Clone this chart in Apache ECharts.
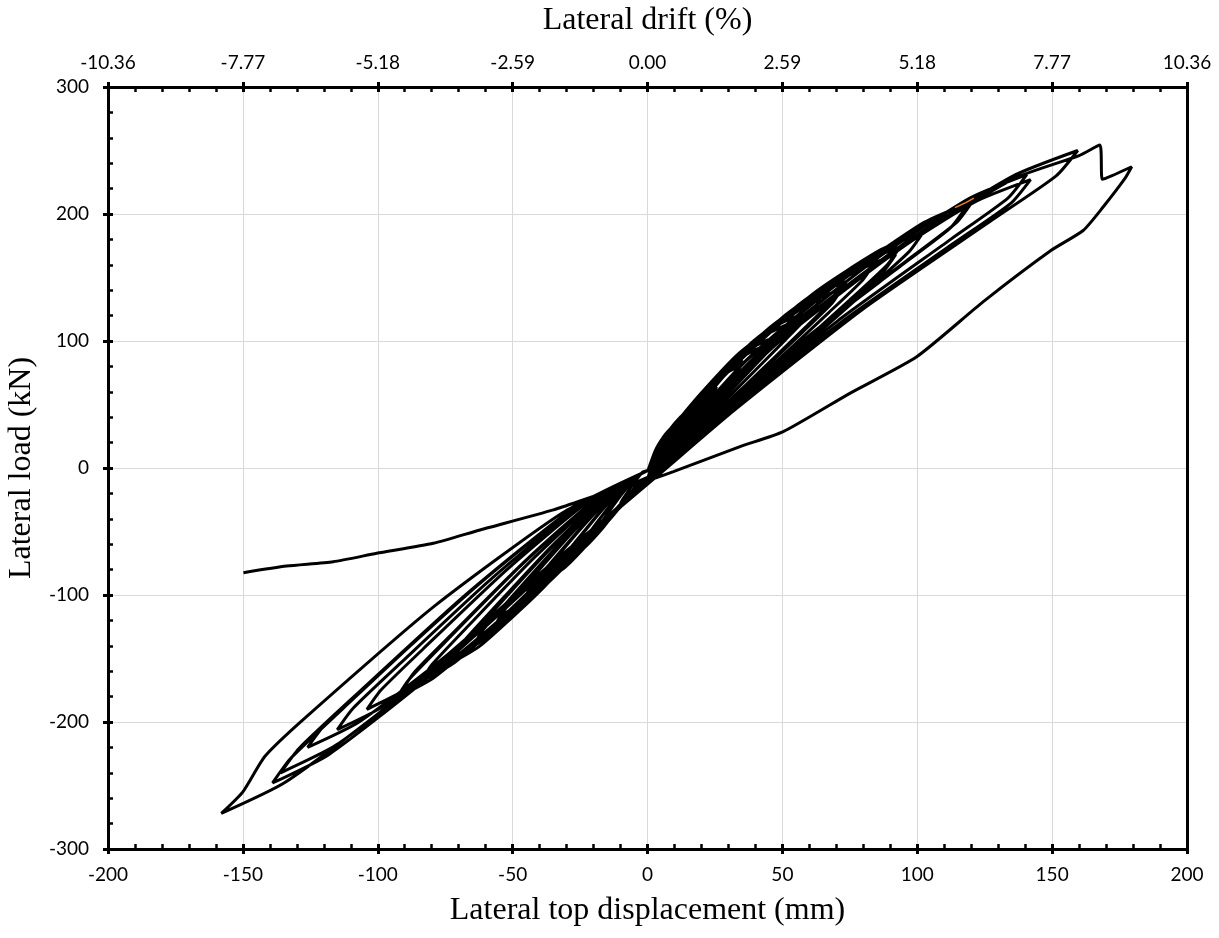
<!DOCTYPE html>
<html><head><meta charset="utf-8">
<script src="https://cdn.jsdelivr.net/npm/echarts@6/dist/echarts.min.js"></script>
<style>html,body{margin:0;padding:0;background:#fff}#c{width:1219px;height:938px}</style>
</head><body><div id="c"></div>
<script>
// ---- Data: [top displacement (mm), lateral load (kN)] per cycle ----
const cycle1 = [[0,-3],[2.9,13.7],[5.8,24.1],[8.2,30.2],[9.6,32.5],[9.1,29.9],[7.7,24.7],[4.8,14.6],[1.9,4.9],[0.2,-7],[-3,-10.1],[-6,-19],[-8.5,-25.5],[-10,-28],[-9.5,-25.8],[-8,-21],[-5,-11.8],[-2,-3.6],[0,-2]];
const cycle2 = [[0,-3],[5.1,20.2],[10.2,35.5],[14.5,44.6],[17,48],[16.2,44.2],[13.6,36.5],[8.5,21.6],[3.4,7.2],[0.3,-7],[-5.9,-18.4],[-11.7,-34.7],[-16.6,-46.4],[-19.5,-51],[-18.5,-46.9],[-15.6,-38.3],[-9.8,-21.4],[-3.9,-6.6],[0,-2]];
const cycle3 = [[0,-3],[7.7,26.9],[15.4,47.4],[21.8,59.5],[25.6,64],[24.3,58.9],[20.5,48.6],[12.8,28.8],[5.1,9.6],[0.5,-7],[-8.1,-24.5],[-16.2,-46.2],[-23,-61.9],[-27,-68],[-25.7,-62.6],[-21.6,-51],[-13.5,-28.6],[-5.4,-8.8],[0,-2]];
const cycle4 = [[0,-3],[10.7,35.3],[21.3,62.2],[30.2,78.1],[35.5,84],[33.7,77.3],[28.4,63.8],[17.8,37.8],[7.1,12.6],[0.7,-7],[-10.8,-31],[-21.6,-58.5],[-30.6,-78.3],[-36,-86],[-34.2,-79.1],[-28.8,-64.5],[-18,-36.1],[-7.2,-11.2],[0,-2]];
const cycle5 = [[0,-3],[10.2,33.6],[20.4,59.2],[28.9,74.4],[34,80],[32.3,73.6],[27.2,60.8],[17,36],[6.8,12],[0.7,-7],[-10.5,-29.5],[-21,-55.8],[-29.8,-74.6],[-35,-82],[-33.3,-75.4],[-28,-61.5],[-17.5,-34.4],[-7,-10.7],[0,-2]];
const cycle6 = [[0,-3],[13.4,42.4],[26.9,74.7],[38.1,93.9],[44.8,101],[42.6,92.9],[35.8,76.8],[22.4,45.5],[9,15.2],[0.9,-7],[-13.8,-37.4],[-27.6,-70.7],[-39.1,-94.6],[-46,-104],[-43.7,-95.7],[-36.8,-78],[-23,-43.7],[-9.2,-13.5],[0,-2]];
const cycle7 = [[0,-3],[12.9,40.3],[25.8,71],[36.6,89.3],[43,96],[40.9,88.3],[34.4,73],[21.5,43.2],[8.6,14.4],[0.9,-7],[-13.5,-36],[-27,-68],[-38.3,-91],[-45,-100],[-42.8,-92],[-36,-75],[-22.5,-42],[-9,-13],[0,-2]];
const cycle8 = [[0,-3],[16.4,50],[32.8,88.1],[46.5,110.7],[54.7,119],[52,109.5],[43.8,90.4],[27.4,53.6],[10.9,17.9],[1.1,-7],[-16.8,-43.9],[-33.6,-83],[-47.6,-111],[-56,-122],[-53.2,-112.2],[-44.8,-91.5],[-28,-51.2],[-11.2,-15.9],[0,-2]];
const cycle9 = [[0,-3],[15.9,47.9],[31.8,84.4],[45,106],[53,114],[50.4,104.9],[42.4,86.6],[26.5,51.3],[10.6,17.1],[1.1,-7],[-16.5,-42.1],[-33,-79.6],[-46.8,-106.5],[-55,-117],[-52.3,-107.6],[-44,-87.8],[-27.5,-49.1],[-11,-15.2],[0,-2]];
const cycle10 = [[0,-3],[19.2,55.9],[38.4,98.4],[54.4,123.7],[64,133],[60.8,122.4],[51.2,101.1],[32,59.9],[12.8,20],[1.3,-7],[-19.2,-49.7],[-38.4,-93.8],[-54.4,-125.6],[-64,-138],[-60.8,-127],[-51.2,-103.5],[-32,-58],[-12.8,-17.9],[0,-2]];
const cycle11 = [[0,-3],[22.1,61.7],[44.3,108.8],[62.7,136.7],[73.8,147],[70.1,135.2],[59,111.7],[36.9,66.2],[14.8,22.1],[1.5,-7],[-21.9,-55.4],[-43.8,-104.7],[-62.1,-140.1],[-73,-154],[-69.4,-141.7],[-58.4,-115.5],[-36.5,-64.7],[-14.6,-20],[0,-2]];
const cycle12 = [[0,-3],[21.6,59.2],[43.2,104.3],[61.2,131.1],[72,141],[68.4,129.7],[57.6,107.2],[36,63.5],[14.4,21.2],[1.4,-7],[-21.6,-53.6],[-43.2,-101.3],[-61.2,-135.6],[-72,-149],[-68.4,-137.1],[-57.6,-111.8],[-36,-62.6],[-14.4,-19.4],[0,-2]];
const cycle13 = [[0,-3],[25.2,67.6],[50.4,119.1],[71.4,149.7],[84,161],[79.8,148.1],[67.2,122.4],[42,72.5],[16.8,24.2],[1.7,-7],[-25.2,-60.5],[-50.4,-114.2],[-71.4,-152.9],[-84,-168],[-79.8,-154.6],[-67.2,-126],[-42,-70.6],[-16.8,-21.8],[0,-2]];
const cycle14 = [[0,-3],[28.1,73.1],[56.2,128.8],[79.6,161.8],[93.6,174],[88.9,160.1],[74.9,132.2],[46.8,78.3],[18.7,26.1],[1.9,-7],[-27.9,-65.2],[-55.8,-123.1],[-79,-164.7],[-93,-181],[-88.4,-166.5],[-74.4,-135.8],[-46.5,-76],[-18.6,-23.5],[0,-2]];
const cycle15 = [[0,-3],[27.6,70.6],[55.2,124.3],[78.2,156.2],[92,168],[87.4,154.6],[73.6,127.7],[46,75.6],[18.4,25.2],[1.8,-7],[-27.3,-63],[-54.6,-119],[-77.4,-159.3],[-91,-175],[-86.5,-161],[-72.8,-131.3],[-45.5,-73.5],[-18.2,-22.8],[0,-2]];
const cycle16 = [[0,-3],[30.6,77.7],[61.2,136.9],[86.7,172.1],[102,185],[96.9,170.2],[81.6,140.6],[51,83.3],[20.4,27.8],[2,-7],[-31.2,-68.4],[-62.4,-129.2],[-88.4,-172.9],[-104,-190],[-98.8,-174.8],[-83.2,-142.5],[-52,-79.8],[-20.8,-24.7],[0,-2]];
const cycle17 = [[0,-3],[36.2,84],[72.3,149.1],[102.4,193.2],[120.5,210],[114.5,193.2],[96.4,163.8],[60.3,105],[24.1,37.8],[2.4,-7],[-34.5,-74.2],[-69,-140.1],[-97.8,-187.5],[-115,-206],[-109.3,-189.5],[-92,-154.5],[-57.5,-86.5],[-23,-26.8],[0,-2]];
const cycle18 = [[0,-3],[35.4,82],[70.8,145.6],[100.3,188.6],[118,205],[112.1,188.6],[94.4,159.9],[59,102.5],[23.6,36.9],[2.4,-7],[-37.8,-79.2],[-75.6,-149.6],[-107.1,-200.2],[-126,-220],[-119.7,-202.4],[-100.8,-165],[-63,-92.4],[-25.2,-28.6],[0,-2]];
const cycle19 = [[0,-3],[42.2,92.4],[84.4,164],[119.5,212.5],[140.6,231],[133.6,212.5],[112.5,180.2],[70.3,115.5],[28.1,41.6],[2.8,-7],[-40.8,-86.4],[-81.6,-163.2],[-115.6,-218.4],[-136,-240],[-129.2,-220.8],[-108.8,-180],[-68,-100.8],[-27.2,-31.2],[0,-2]];
const cycle20 = [[0,-3],[42.6,90.8],[85.2,161.2],[120.7,208.8],[142,227],[134.9,208.8],[113.6,177.1],[71,113.5],[28.4,40.9],[2.8,-7],[-41.7,-89.3],[-83.4,-168.6],[-118.2,-225.7],[-139,-248],[-132.1,-228.2],[-111.2,-186],[-69.5,-104.2],[-27.8,-32.2],[0,-2]];
const cycle21 = [[0,-3],[47.9,100],[95.7,177.5],[135.6,230],[159.5,250],[151.5,230],[127.6,195],[79.8,125],[31.9,45],[3.2,-7],[-47.4,-97.9],[-94.8,-185],[-134.3,-247.5],[-158,-272],[-150,-255],[-141.8,-227],[-126.4,-195.8],[-79,-108.8],[-31.6,-35.4],[0,-2]];
const finalRun = [[0,-3],[48,98],[96,176],[136,228],[160,246],[167.7,254.3],[168.6,227.3],[172,230],[179.5,237.2],[177,228],[168.9,205.5],[161.5,187],[149.8,171.6],[124.5,131],[99.8,87.6],[75,58.8],[50.3,28.6],[34.3,16.8],[9.6,-2.9],[0,-10],[-18,-21],[-34.9,-33],[-62.1,-48.8],[-79.4,-59.3],[-100.4,-67.2],[-116.5,-73.8],[-133.8,-77.2],[-149.8,-82.4]];
const orangeTip = [[114,205],[118,209],[121,212.5]];

// ---- Axis settings ----
const dispMin = -200, dispMax = 200, dispStep = 50;
const loadMin = -300, loadMax = 300, loadStep = 100;
const driftMin = -10.36, driftMax = 10.36, driftStep = 2.59;

const cycles = [cycle1,cycle2,cycle3,cycle4,cycle5,cycle6,cycle7,cycle8,cycle9,cycle10,cycle11,cycle12,cycle13,cycle14,cycle15,cycle16,cycle17,cycle18,cycle19,cycle20,cycle21,finalRun];
const path = [].concat(...cycles);

const labelFont = 'Lato';
const nameFont = 'Liberation Serif';
const black = '#000';

function primaryAxis(extra){
  return Object.assign({
    type:'value',
    axisLine:{show:true, onZero:false, lineStyle:{color:black,width:3}},
    axisTick:{show:true, inside:true, length:5, lineStyle:{color:black,width:3}},
    minorTick:{show:true, splitNumber:5, length:5, lineStyle:{color:black,width:2.5}},
    axisLabel:{fontFamily:labelFont, fontSize:19, color:black},
    splitLine:{show:false},
    nameTextStyle:{fontFamily:nameFont, fontSize:32, color:black}
  }, extra);
}
function outerTicks(extra){
  return Object.assign({
    type:'value',
    axisLine:{show:false, onZero:false},
    axisTick:{show:true, inside:false, length:5, lineStyle:{color:black,width:3}},
    minorTick:{show:false},
    axisLabel:{show:false},
    splitLine:{show:false}
  }, extra);
}

const chart = echarts.init(document.getElementById('c'), null, {renderer:'canvas'});
chart.setOption({
  animation:false,
  backgroundColor:'#fff',
  grid:{left:108, right:32, top:87, bottom:89, outerBoundsMode:'none', containLabel:false},
  xAxis:[
    primaryAxis({position:'bottom', min:dispMin, max:dispMax, interval:dispStep,
      name:'Lateral top displacement (mm)', nameLocation:'middle', nameGap:46,
      axisLabel:{fontFamily:labelFont, fontSize:19, color:black, margin:16},
      splitLine:{show:true, lineStyle:{color:'#d9d9d9', width:1}}}),
    outerTicks({position:'bottom', min:dispMin, max:dispMax, interval:dispStep}),
    primaryAxis({position:'top', min:driftMin, max:driftMax, interval:driftStep,
      name:'Lateral drift (%)', nameLocation:'middle', nameGap:50,
      axisLabel:{fontFamily:labelFont, fontSize:19, color:black, margin:15,
        formatter:function(v){ return Math.abs(v)<1e-9 ? '0.00' : v.toFixed(2); }}}),
    outerTicks({position:'top', min:driftMin, max:driftMax, interval:driftStep})
  ],
  yAxis:[
    primaryAxis({position:'left', min:loadMin, max:loadMax, interval:loadStep,
      name:'Lateral load (kN)', nameLocation:'middle', nameGap:58,
      axisLabel:{fontFamily:labelFont, fontSize:19, color:black, margin:19},
      splitLine:{show:true, lineStyle:{color:'#d9d9d9', width:1}}}),
    outerTicks({position:'left', min:loadMin, max:loadMax, interval:loadStep}),
    {type:'value', position:'right', min:loadMin, max:loadMax, interval:loadStep,
      axisLine:{show:true, onZero:false, lineStyle:{color:black,width:3}},
      axisTick:{show:false}, axisLabel:{show:false}, splitLine:{show:false}}
  ],
  series:[
    {type:'line', xAxisIndex:0, yAxisIndex:0, data:path, showSymbol:false, symbol:'none',
      smooth:0.2, lineStyle:{color:black, width:3}, z:3},
    {type:'line', xAxisIndex:0, yAxisIndex:0, data:orangeTip, showSymbol:false, symbol:'none',
      lineStyle:{color:'#ed7d31', width:1.5}, z:4}
  ]
});
</script></body></html>
